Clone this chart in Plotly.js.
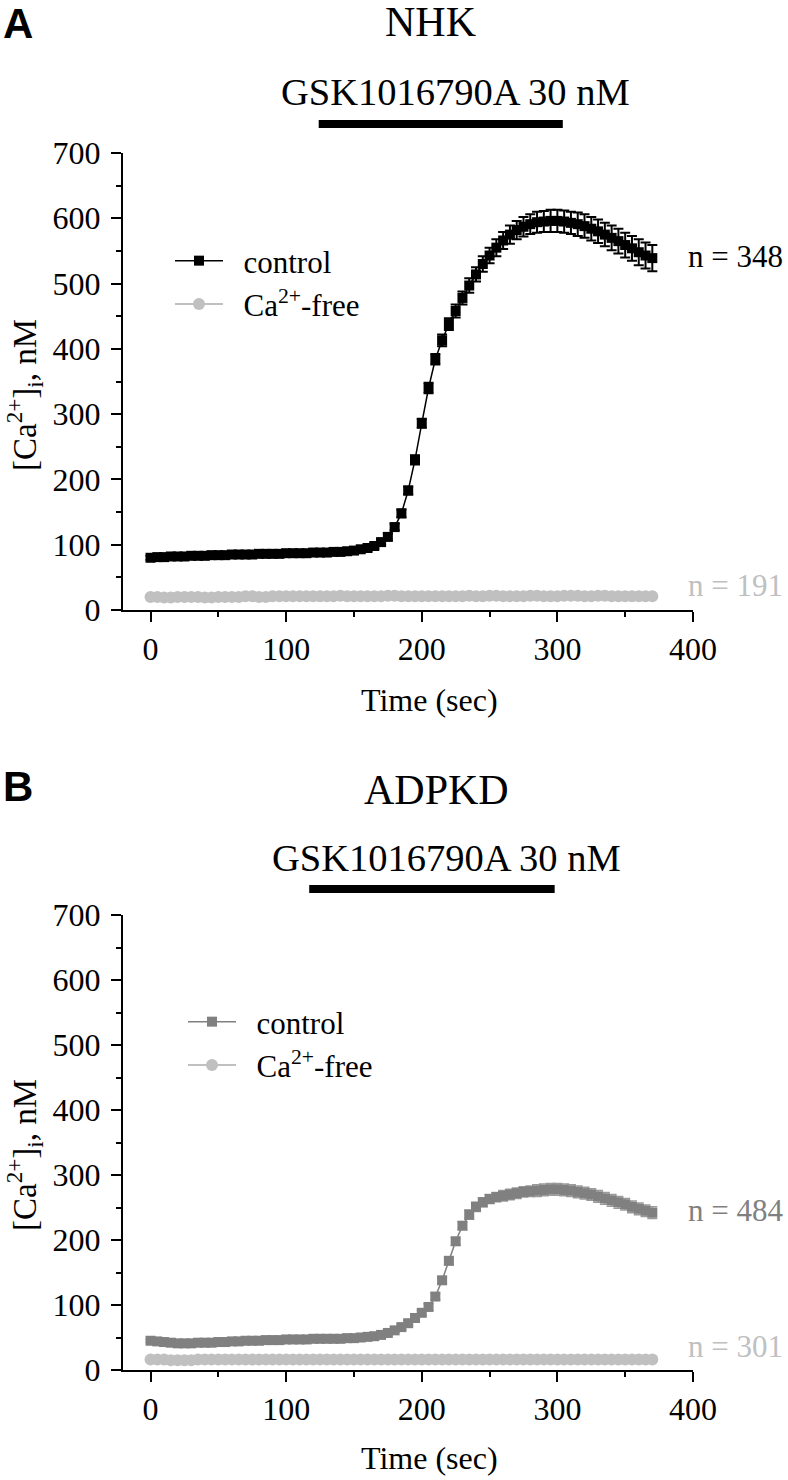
<!DOCTYPE html>
<html><head><meta charset="utf-8">
<script src="https://cdn.plot.ly/plotly-3.0.1.min.js"></script>
<style>html,body{margin:0;padding:0;background:#fff;} #chart{width:788px;height:1480px;}</style>
</head><body><div id="chart"></div>
<script>
// ---- data (time in sec, [Ca2+]i in nM) ----
const time = [0,5,10,15,20,25,30,35,40,45,50,55,60,65,70,75,80,85,90,95,100,105,110,115,120,125,130,135,140,145,
  150,155,160,165,170,175,180,185,190,195,200,205,210,215,220,225,230,235,240,245,250,255,260,265,270,275,280,285,290,295,
  300,305,310,315,320,325,330,335,340,345,350,355,360,365,370];
const xTicks = [0,100,200,300,400];
const yTicks = [0,100,200,300,400,500,600,700];

const nhkControl = [80,81,81,82,82,82,83,83,83,84,84,84,85,85,85,85,86,86,86,86,87,87,87,87,88,88,88,89,89,90,
  91,93,95,98,104,112,127,148,183,230,286,340,384,413,438,458,478,497,514,530,543,555,566,575,582,587,591,594,595,596,
  596,595,593,591,588,584,580,575,570,565,559,554,548,543,539];
const nhkControlErr = [3,3,3,3,3,3,3,3,3,3,3,3,3,3,3,3,3,3,3,3,3,3,3,3,3,3,3,3,3,3,
  3,3,4,4,4,5,5,6,6,7,7,8,8,9,9,10,10,11,11,12,12,13,13,14,14,15,15,16,16,17,
  17,17,17,18,18,18,18,18,19,19,19,19,20,20,20];
const nhkFree = [20,20,19,19,20,20,20,20,19,19,20,20,20,20,21,21,20,20,21,21,21,21,21,21,21,21,21,21,22,21,
  21,21,21,21,21,22,22,21,21,21,21,21,21,21,21,21,21,22,21,21,22,22,21,21,21,21,22,22,21,21,
  21,22,22,22,21,21,22,22,21,21,21,21,21,21,21];

const adpkdControl = [45,44,43,42,41,41,41,42,42,42,43,43,44,44,45,45,45,46,46,46,47,47,47,47,48,48,48,48,48,49,
  49,50,51,52,54,57,61,66,72,80,88,97,113,138,168,198,222,239,251,258,263,266,268,270,272,274,275,276,277,278,
  278,277,276,274,272,270,267,264,261,258,255,251,248,245,242];
const adpkdControlErr = [2,2,2,2,2,2,2,2,2,2,2,2,2,2,2,2,2,2,2,2,2,2,2,2,2,2,2,2,2,2,
  2,2,2,3,3,3,3,4,4,4,4,5,5,5,6,6,6,7,7,7,7,7,8,8,8,8,8,9,9,9,
  9,9,9,9,9,9,9,9,9,9,9,9,9,9,9];
const adpkdFree = [16,16,16,15,15,15,15,16,16,16,16,16,16,16,16,16,16,16,16,16,16,16,16,16,16,16,16,16,16,16,
  16,16,16,16,16,16,16,16,16,16,16,16,16,16,16,16,16,16,16,16,16,16,16,16,16,16,16,16,16,16,
  16,16,16,16,16,16,16,16,16,16,16,16,16,16,16];

const treatmentNHK = [124, 304];
const treatmentADPKD = [117, 298];
const nLabels = {nhkControl: 'n = 348', nhkFree: 'n = 191', adpkdControl: 'n = 484', adpkdFree: 'n = 301'};

// ---- styles ----
const SERIF = 'Liberation Serif, Times New Roman, serif';
const SANS = 'Liberation Sans, Arial, sans-serif';
const BLACK = '#000000', GRAY = '#808080', LIGHT = '#c0c0c0';
const W = 788, H = 1480;
const px = v => v / W;
const py = v => 1 - v / H;

function axisStyle(extra) {
  return Object.assign({
    showline: true, linewidth: 2, linecolor: BLACK, mirror: false,
    ticks: 'outside', ticklen: 10, tickwidth: 2, tickcolor: BLACK,
    showgrid: false, zeroline: false, fixedrange: true,
    tickfont: {family: SERIF, size: 32, color: BLACK},
    minor: {ticks: 'outside', ticklen: 5, tickwidth: 2, tickcolor: BLACK, dtick: 50, showgrid: false}
  }, extra);
}

const traces = [
  {x: time, y: nhkControl, xaxis: 'x', yaxis: 'y', name: '\u2002control', legend: 'legend', type: 'scatter', mode: 'lines+markers',
   line: {color: BLACK, width: 1.5}, marker: {symbol: 'square', size: 10, color: BLACK},
   error_y: {type: 'data', array: nhkControlErr, visible: true, color: BLACK, thickness: 2, width: 5}},
  {x: time, y: nhkFree, xaxis: 'x', yaxis: 'y', name: '\u2002Ca<sup>2+</sup>-free', legend: 'legend', type: 'scatter', mode: 'lines+markers',
   line: {color: LIGHT, width: 2}, marker: {symbol: 'circle', size: 12, color: LIGHT}},
  {x: time, y: adpkdControl, xaxis: 'x2', yaxis: 'y2', name: '\u2002control', legend: 'legend2', type: 'scatter', mode: 'lines+markers',
   line: {color: GRAY, width: 1.5}, marker: {symbol: 'square', size: 10, color: GRAY},
   error_y: {type: 'data', array: adpkdControlErr, visible: true, color: '#9a9a9a', thickness: 1.5, width: 5}},
  {x: time, y: adpkdFree, xaxis: 'x2', yaxis: 'y2', name: '\u2002Ca<sup>2+</sup>-free', legend: 'legend2', type: 'scatter', mode: 'lines+markers',
   line: {color: LIGHT, width: 2}, marker: {symbol: 'circle', size: 12, color: LIGHT}}
];

const xDomain = [px(123), px(693)];
const legendStyle = {xanchor: 'left', yanchor: 'top', bgcolor: 'rgba(0,0,0,0)', borderwidth: 0,
  font: {family: SERIF, size: 31, color: BLACK}, itemwidth: 48, tracegroupgap: 0, traceorder: 'normal'};

function ann(text, x, y, size, color, opts) {
  return Object.assign({text: text, x: px(x), y: py(y), xref: 'paper', yref: 'paper', showarrow: false,
    xanchor: 'center', yanchor: 'middle', font: {family: SERIF, size: size, color: color}}, opts || {});
}

const annotations = [
  ann('<b>A</b>', 1, 23, 42, BLACK, {xanchor: 'left', font: {family: SANS, size: 42, color: BLACK}}),
  ann('NHK', 430, 22, 42, BLACK),
  ann('GSK1016790A 30 nM', 456, 92, 38.5, BLACK),
  ann(nLabels.nhkControl, 686, 256, 31, BLACK, {xanchor: 'left'}),
  ann(nLabels.nhkFree, 686, 585, 31, LIGHT, {xanchor: 'left'}),
  ann('Time (sec)', 429, 700, 32, BLACK),
  ann('[Ca<sup>2+</sup>]<sub>i</sub>, nM', 24, 395, 33, BLACK, {textangle: -90}),

  ann('<b>B</b>', 1, 787, 42, BLACK, {xanchor: 'left', font: {family: SANS, size: 42, color: BLACK}}),
  ann('ADPKD', 436, 790, 42, BLACK),
  ann('GSK1016790A 30 nM', 446, 858, 38.5, BLACK),
  ann(nLabels.adpkdControl, 686, 1210, 31, GRAY, {xanchor: 'left'}),
  ann(nLabels.adpkdFree, 686, 1346, 31, LIGHT, {xanchor: 'left'}),
  ann('Time (sec)', 429, 1458, 32, BLACK),
  ann('[Ca<sup>2+</sup>]<sub>i</sub>, nM', 24, 1155, 33, BLACK, {textangle: -90})
];

const shapes = [
  {type: 'rect', xref: 'x', yref: 'paper', x0: treatmentNHK[0], x1: treatmentNHK[1], y0: py(128), y1: py(120),
   fillcolor: BLACK, line: {width: 0}},
  {type: 'rect', xref: 'x2', yref: 'paper', x0: treatmentADPKD[0], x1: treatmentADPKD[1], y0: py(893), y1: py(885),
   fillcolor: BLACK, line: {width: 0}}
];

const layout = {
  width: W, height: H, margin: {l: 0, r: 0, t: 0, b: 0},
  paper_bgcolor: '#ffffff', plot_bgcolor: '#ffffff', showlegend: true,
  font: {family: SERIF, color: BLACK},
  xaxis: axisStyle({domain: xDomain, anchor: 'y', range: [-20.3, 400], tickvals: xTicks}),
  yaxis: axisStyle({domain: [py(610), py(153)], anchor: 'x', range: [0, 700], tickvals: yTicks, ticklabelstandoff: 4}),
  xaxis2: axisStyle({domain: xDomain, anchor: 'y2', range: [-20.3, 400], tickvals: xTicks}),
  yaxis2: axisStyle({domain: [py(1370), py(915)], anchor: 'x2', range: [0, 700], tickvals: yTicks, ticklabelstandoff: 4}),
  legend: Object.assign({x: px(170), y: py(234)}, legendStyle),
  legend2: Object.assign({x: px(183), y: py(995)}, legendStyle),
  annotations: annotations,
  shapes: shapes
};

Plotly.newPlot('chart', traces, layout, {displayModeBar: false, staticPlot: true});
</script>
</body></html>
